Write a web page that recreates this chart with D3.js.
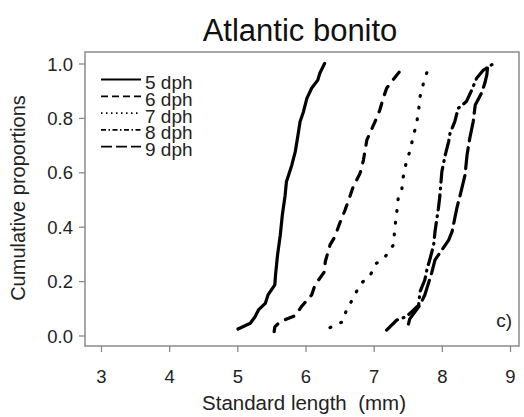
<!DOCTYPE html>
<html>
<head>
<meta charset="utf-8">
<script src="https://cdn.jsdelivr.net/npm/d3@7"></script>
<style>
  body { margin: 0; background: #fff; }
  svg { display: block; font-family: "Liberation Sans", Arial, sans-serif; }
</style>
</head>
<body>
<svg id="chart" width="524" height="417"></svg>
<script>
// Cumulative size distributions of Atlantic bonito larvae by age (days post hatch)
const seriesNames = ["5 dph", "6 dph", "7 dph", "8 dph", "9 dph"];

const len5 = [5.01, 5.19, 5.26, 5.31, 5.41, 5.45, 5.55, 5.56, 5.59, 5.63, 5.66, 5.70, 5.72, 5.80, 5.85, 5.89, 5.92, 5.97, 6.02, 6.09, 6.18, 6.21, 6.28];
const prop5 = [0.024, 0.045, 0.069, 0.094, 0.118, 0.149, 0.186, 0.222, 0.296, 0.369, 0.443, 0.513, 0.565, 0.627, 0.676, 0.737, 0.786, 0.823, 0.872, 0.909, 0.939, 0.964, 1.0];

const len6 = [5.54, 5.55, 5.63, 5.85, 5.94, 6.09, 6.14, 6.28, 6.29, 6.36, 6.43, 6.51, 6.58, 6.65, 6.70, 6.80, 6.85, 6.90, 7.02, 7.09, 7.14, 7.19, 7.34, 7.44];
const prop6 = [0.014, 0.032, 0.051, 0.073, 0.106, 0.149, 0.186, 0.235, 0.271, 0.333, 0.363, 0.418, 0.461, 0.510, 0.547, 0.596, 0.645, 0.719, 0.786, 0.829, 0.872, 0.909, 0.958, 0.987];

const len7 = [6.36, 6.55, 6.60, 6.70, 6.80, 6.95, 7.04, 7.17, 7.29, 7.31, 7.34, 7.36, 7.41, 7.43, 7.48, 7.53, 7.58, 7.63, 7.66, 7.68, 7.73, 7.80];
const prop7 = [0.029, 0.051, 0.094, 0.137, 0.188, 0.222, 0.265, 0.290, 0.333, 0.394, 0.455, 0.504, 0.529, 0.578, 0.639, 0.676, 0.731, 0.780, 0.829, 0.878, 0.927, 0.982];

const len8 = [7.19, 7.34, 7.48, 7.66, 7.68, 7.75, 7.78, 7.83, 7.88, 7.90, 7.95, 7.97, 8.00, 8.05, 8.10, 8.12, 8.19, 8.24, 8.36, 8.44, 8.51, 8.61, 8.76];
const prop8 = [0.020, 0.057, 0.069, 0.112, 0.161, 0.204, 0.241, 0.285, 0.333, 0.382, 0.468, 0.510, 0.602, 0.664, 0.713, 0.743, 0.786, 0.835, 0.860, 0.903, 0.946, 0.976, 1.0];

const len9 = [7.51, 7.53, 7.68, 7.75, 7.85, 7.90, 8.00, 8.10, 8.15, 8.22, 8.27, 8.34, 8.37, 8.41, 8.46, 8.49, 8.58, 8.63, 8.66, 8.67];
const prop9 = [0.042, 0.061, 0.112, 0.149, 0.229, 0.278, 0.314, 0.351, 0.382, 0.468, 0.517, 0.590, 0.664, 0.725, 0.786, 0.847, 0.890, 0.927, 0.958, 0.983];

const xTicks = [3, 4, 5, 6, 7, 8, 9];
const yTicks = [0.0, 0.2, 0.4, 0.6, 0.8, 1.0];

const lengths = [len5, len6, len7, len8, len9];
const props = [prop5, prop6, prop7, prop8, prop9];
// line patterns for the curves and for the (shorter) legend keys
const dashes = [null, "9,9", "0.8,11", "15,6,0.8,6", "21,7"];
const keyDashes = [null, "7,4", "1.5,3.5", "5,2.5,1.5,2.5", "11,4"];

const svg = d3.select("#chart");
const box = { left: 85, right: 519, top: 52, bottom: 346 };

const x = d3.scaleLinear().domain([3, 9]).range([101, 510]);
const y = d3.scaleLinear().domain([0, 1]).range([335.5, 63.5]);

const axisGrey = "#8a8a8a";
const textCol = "#222";
const font = "Liberation Sans, Arial, sans-serif";

// frame
svg.append("rect")
  .attr("x", box.left).attr("y", box.top)
  .attr("width", box.right - box.left).attr("height", box.bottom - box.top)
  .attr("fill", "none").attr("stroke", axisGrey).attr("stroke-width", 1.5);

// x axis
const xAxis = svg.append("g")
  .attr("transform", `translate(0,${box.bottom})`)
  .call(d3.axisBottom(x).tickValues(xTicks).tickSize(6).tickSizeOuter(0).tickFormat(d3.format("d")));
xAxis.select(".domain").remove();
xAxis.selectAll("line").attr("stroke", axisGrey).attr("stroke-width", 1.3);
xAxis.selectAll("text").attr("fill", textCol).attr("font-size", 18.5)
  .attr("font-family", font).attr("y", 37).attr("dy", null);

// y axis
const yAxis = svg.append("g")
  .attr("transform", `translate(${box.left},0)`)
  .call(d3.axisLeft(y).tickValues(yTicks).tickSize(6).tickSizeOuter(0).tickFormat(d3.format(".1f")));
yAxis.select(".domain").remove();
yAxis.selectAll("line").attr("stroke", axisGrey).attr("stroke-width", 1.3);
yAxis.selectAll("text").attr("fill", textCol).attr("font-size", 18.5)
  .attr("font-family", font).attr("x", -12).attr("dy", "0.36em");

// title and axis titles
svg.append("text").attr("x", 300).attr("y", 41).attr("text-anchor", "middle")
  .attr("font-size", 31).attr("fill", "#111").text("Atlantic bonito");
svg.append("text").attr("x", 304).attr("y", 410).attr("text-anchor", "middle")
  .attr("font-size", 20.5).attr("fill", textCol).attr("xml:space", "preserve")
  .text("Standard length  (mm)");
svg.append("text").attr("transform", "translate(25,198) rotate(-90)").attr("text-anchor", "middle")
  .attr("font-size", 20).attr("fill", textCol).text("Cumulative proportions");

// panel letter
svg.append("text").attr("x", 512).attr("y", 327).attr("text-anchor", "end")
  .attr("font-size", 19).attr("fill", textCol).text("c)");

// cumulative curves
const line = d3.line().x(d => x(d[0])).y(d => y(d[1]));
seriesNames.forEach((name, i) => {
  const pts = lengths[i].map((v, k) => [v, props[i][k]]);
  svg.append("path").datum(pts)
    .attr("d", line)
    .attr("fill", "none").attr("stroke", "#000").attr("stroke-width", 3.2)
    .attr("stroke-linecap", "round").attr("stroke-linejoin", "round")
    .attr("stroke-dasharray", dashes[i]);
});

// legend: compact key rows, labels set close together
const leg = svg.append("g");
seriesNames.forEach((name, i) => {
  const ly = 79.5 + i * 16.8;
  leg.append("line").attr("x1", 101).attr("x2", 141).attr("y1", ly).attr("y2", ly)
    .attr("stroke", "#000").attr("stroke-width", 1.8)
    .attr("stroke-dasharray", keyDashes[i]);
  leg.append("text").attr("x", 145).attr("y", ly + 9.5)
    .attr("font-size", 19).attr("fill", textCol).text(name);
});
</script>
</body>
</html>
